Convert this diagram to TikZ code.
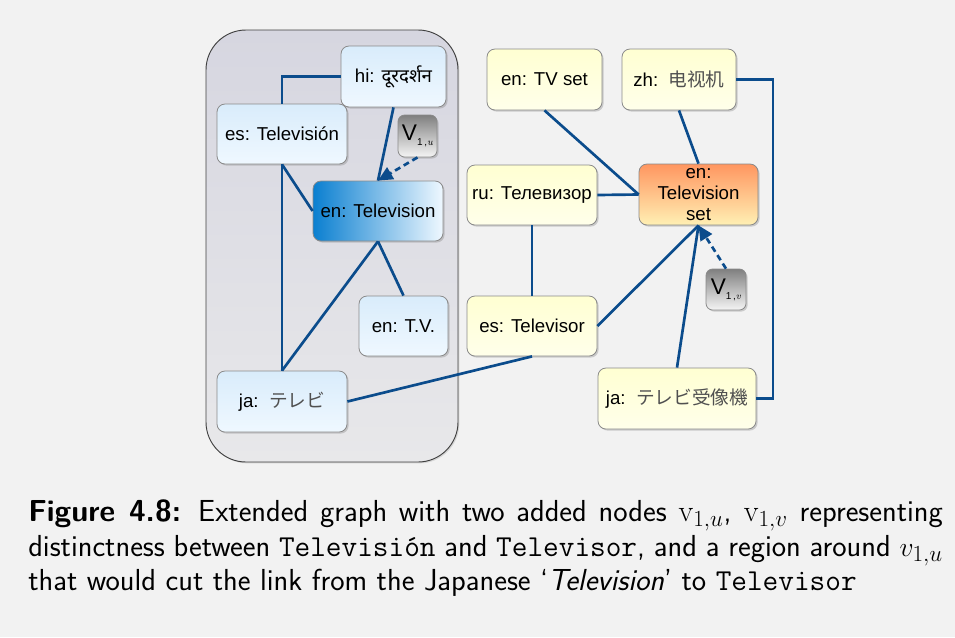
\documentclass[tikz,border=0pt]{standalone}
\usepackage{fontspec}
\newfontfamily\nodefont{Liberation Sans}
\newfontfamily\devafont[Script=Devanagari]{Noto Sans}
\newfontfamily\cjkfont{Noto Sans CJK JP}
\usetikzlibrary{shadows,arrows.meta}
\definecolor{bgc}{HTML}{F2F2F2}
\definecolor{edgec}{HTML}{0B4C8C}
\definecolor{bluetop}{HTML}{D9ECFB}
\definecolor{bluebot}{HTML}{EFF8FF}
\definecolor{deepblue}{HTML}{0A7FD0}
\definecolor{yeltop}{HTML}{FFFFD2}
\definecolor{yelbot}{HTML}{FFFFEA}
\definecolor{orangetop}{HTML}{FF9660}
\definecolor{orangebot}{HTML}{FFF0B4}
\definecolor{regtop}{HTML}{D6D6E0}
\definecolor{regbot}{HTML}{E8E8EA}
\definecolor{bordc}{HTML}{8A8A8A}
\definecolor{cjkc}{HTML}{505050}
\tikzset{
  nbox/.style={draw=bordc, line width=0.6pt, rounded corners=6pt, inner sep=0pt,
    font=\nodefont\fontsize{14}{15.5}\selectfont, align=center,
    drop shadow={opacity=0.35, shadow xshift=1.2pt, shadow yshift=-1.2pt}},
  bluebox/.style={nbox, top color=bluetop, bottom color=bluebot},
  yelbox/.style={nbox, top color=yeltop, bottom color=yelbot},
  vbox/.style={nbox, top color=black!50, bottom color=black!4, rounded corners=5pt},
  link/.style={draw=edgec, line width=2pt},
  vlink/.style={draw=edgec, line width=2pt, dash pattern=on 4.5pt off 3pt,
    -{Triangle[length=11pt,width=10pt]}},
  capline/.style={anchor=base west, inner sep=0pt, font=\sffamily\fontsize{22.8}{26}\selectfont},
}
\newcommand{\cjk}[1]{{\cjkfont\color{cjkc}#1}}
\newcommand{\vsub}[1]{{\fontsize{17}{17}\selectfont V}\raisebox{-4pt}{\fontsize{7.5}{7.5}\selectfont 1\,,\textit{\rmfamily #1}}}
\begin{document}
\begin{tikzpicture}[x=0.75pt,y=-0.75pt]
\fill[bgc] (0,0) rectangle (955,637);
\useasboundingbox (0,0) rectangle (955,637);
% region
\node[draw=black!75, line width=0.7pt, rounded corners=30pt, top color=regtop, bottom color=regbot,
  minimum width=252*0.75pt, minimum height=432*0.75pt, inner sep=0pt,
  drop shadow={opacity=0.25, shadow xshift=1pt, shadow yshift=-1pt}] (region) at (332,246) {};
% nodes left
\node[bluebox, minimum width=105*0.75pt, minimum height=61*0.75pt] (hi) at (393.5,76.5) {hi: {\devafont दूरदर्शन}};
\node[bluebox, minimum width=130*0.75pt, minimum height=60*0.75pt] (esTv) at (282,134) {es: Televisión};
\node[vbox, minimum width=39*0.75pt, minimum height=42*0.75pt] (vu) at (417.5,136) {\vsub{u}};
\node[nbox, shading angle=-60, left color=deepblue, right color=bluebot, minimum width=130*0.75pt, minimum height=60*0.75pt] (enTv) at (378,211) {en: Television};
\node[bluebox, minimum width=89*0.75pt, minimum height=60*0.75pt] (TV) at (403.5,326) {en: T.V.};
\node[bluebox, minimum width=130*0.75pt, minimum height=61*0.75pt] (jaTv) at (282,401.5) {ja:\ \ \cjk{テレビ}};
% nodes right
\node[yelbox, minimum width=115*0.75pt, minimum height=61*0.75pt] (TVset) at (544.5,79.5) {en: TV set};
\node[yelbox, minimum width=114*0.75pt, minimum height=61*0.75pt] (zh) at (679,79.5) {zh:\ \ \cjk{电视机}};
\node[yelbox, minimum width=130*0.75pt, minimum height=60*0.75pt] (ru) at (532,195) {ru: Телевизор};
\node[nbox, top color=orangetop, bottom color=orangebot, minimum width=119*0.75pt, minimum height=61*0.75pt] (enTS) at (698.5,194.5) {en:\\Television\\set};
\node[vbox, minimum width=40*0.75pt, minimum height=41*0.75pt] (vv) at (726,289.5) {\vsub{v}};
\node[yelbox, minimum width=130*0.75pt, minimum height=60*0.75pt] (esTr) at (532,326) {es: Televisor};
\node[yelbox, minimum width=158*0.75pt, minimum height=61*0.75pt] (ja2) at (677,398.5) {ja:\ \ \cjk{テレビ受像機}};
\coordinate (rr) at (773,0);
% edges
\draw[link] (hi.west) -| (esTv.north);
\draw[link] (hi.south) -- (enTv.north);
\draw[vlink] (vu.south) -- (enTv.north);
\draw[link] (esTv.south) -- (enTv.west);
\draw[link] (esTv.south) -- (jaTv.north);
\draw[link] (enTv.south) -- (jaTv.north);
\draw[link] (enTv.south) -- (TV.north);
\draw[link] (jaTv.east) -- (esTr.south);
\draw[link] (TVset.south) -- (enTS.west);
\draw[link] (zh.south) -- (enTS.north);
\draw[link] (ru.east) -- (enTS.west);
\draw[link] (ru.south) -- (esTr.north);
\draw[link] (esTr.east) -- (enTS.south);
\draw[link] (ja2.north) -- (enTS.south);
\draw[vlink] (vv.north) -- (enTS.south);
\draw[link] (zh.east) -- (zh.east -| rr) -- (ja2.east -| rr) -- (ja2.east);
% caption
\node[capline] (cap1) at (28,521) {\makebox[686pt][s]{\textbf{Figure 4.8:} Extended graph with two added nodes $\mathrm{v}_{1,u}$, $\mathrm{v}_{1,v}$ representing}};
\node[capline] (cap2) at (28,556) {\makebox[686pt][s]{distinctness between \texttt{Televisión} and \texttt{Televisor}, and a region around $v_{1,u}$}};
\node[capline] (cap3) at (28,590) {that would cut the link from the Japanese `\textit{Television}' to \texttt{Televisor}};
\end{tikzpicture}
\end{document}
